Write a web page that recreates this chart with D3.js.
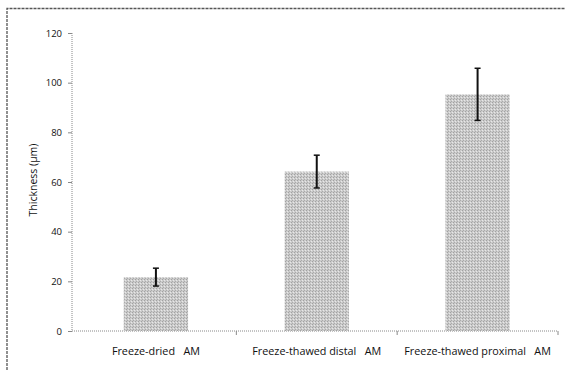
<!DOCTYPE html>
<html><head><meta charset="utf-8">
<script src="https://cdn.jsdelivr.net/npm/d3@7"></script>
<style>body{margin:0;background:#fff;} text{font-family:"Open Sans","DejaVu Sans",sans-serif;}</style>
</head><body>
<svg id="c" width="565" height="370"></svg>
<script>
const categories = ["Freeze-dried   AM", "Freeze-thawed distal   AM", "Freeze-thawed proximal   AM"];
const values = [21.7, 64.2, 95.3];
const errors = [3.6, 6.6, 10.5];
const yTicks = [0, 20, 40, 60, 80, 100, 120];

const svg = d3.select("#c");
const defs = svg.append("defs");
const pat = defs.append("pattern").attr("id","tex").attr("width",3).attr("height",3).attr("patternUnits","userSpaceOnUse");
pat.append("rect").attr("width",3).attr("height",3).attr("fill","#cbcbcb");
pat.append("rect").attr("x",0).attr("y",0).attr("width",1).attr("height",1).attr("fill","#a2a2a2");
pat.append("rect").attr("x",2).attr("y",1).attr("width",1).attr("height",1).attr("fill","#e8e8e8");
pat.append("rect").attr("x",1).attr("y",2).attr("width",1).attr("height",1).attr("fill","#ababab");

// frame (top and left)
svg.append("path").attr("d","M7,370 V8.5 H565").attr("fill","none").attr("stroke","#555").attr("stroke-width",1.3).attr("stroke-dasharray","3,1");

const y = d3.scaleLinear().domain([0,120]).range([331,33]);
const x = d3.scaleBand().domain(categories).range([75.5,558]).paddingInner(0.6).paddingOuter(0.3);

// y axis
const ya = svg.append("g").attr("transform","translate(72,0)")
  .call(d3.axisLeft(y).tickValues(yTicks).tickSize(4).tickPadding(6));
ya.select(".domain").attr("stroke","#888").attr("stroke-dasharray","1,1").attr("d","M0,33V331");
ya.selectAll(".tick line").attr("stroke","#888");
ya.selectAll("text").attr("font-size","9.5px").attr("fill","#111");

// x axis
const xa = svg.append("g").attr("transform","translate(0,331)");
xa.append("line").attr("x1",72).attr("x2",558).attr("stroke","#888").attr("stroke-dasharray","1,1");
const bounds = categories.map(c => x(c) + x.bandwidth() + x.step()*x.paddingInner()/2);
xa.selectAll("line.tk").data(bounds).join("line").attr("class","tk")
  .attr("x1",d=>d).attr("x2",d=>d).attr("y1",0).attr("y2",4).attr("stroke","#888");
xa.selectAll("text").data(categories).join("text")
  .attr("x",c=>x(c)+x.bandwidth()/2).attr("y",24).attr("text-anchor","middle")
  .attr("font-size","10.8px").attr("fill","#111").style("white-space","pre").text(c=>c);

// bars
svg.selectAll("rect.bar").data(values).join("rect").attr("class","bar")
  .attr("x",(d,i)=>x(categories[i])).attr("width",x.bandwidth())
  .attr("y",d=>y(d)).attr("height",d=>y(0)-y(d)).attr("fill","url(#tex)");

// error bars
const eb = svg.append("g").attr("stroke","#111").attr("stroke-width",2);
values.forEach((v,i)=>{
  const cx = x(categories[i]) + x.bandwidth()/2;
  eb.append("line").attr("x1",cx).attr("x2",cx).attr("y1",y(v+errors[i])).attr("y2",y(v-errors[i]));
  eb.append("line").attr("x1",cx-3).attr("x2",cx+3).attr("y1",y(v+errors[i])).attr("y2",y(v+errors[i])).attr("stroke-width",1.5);
  eb.append("line").attr("x1",cx-3).attr("x2",cx+3).attr("y1",y(v-errors[i])).attr("y2",y(v-errors[i])).attr("stroke-width",1.5);
});

// y title
svg.append("text").attr("transform","translate(37,180) rotate(-90)").attr("text-anchor","middle")
  .attr("font-size","10.5px").attr("fill","#111").text("Thickness (µm)");
</script>
</body></html>
